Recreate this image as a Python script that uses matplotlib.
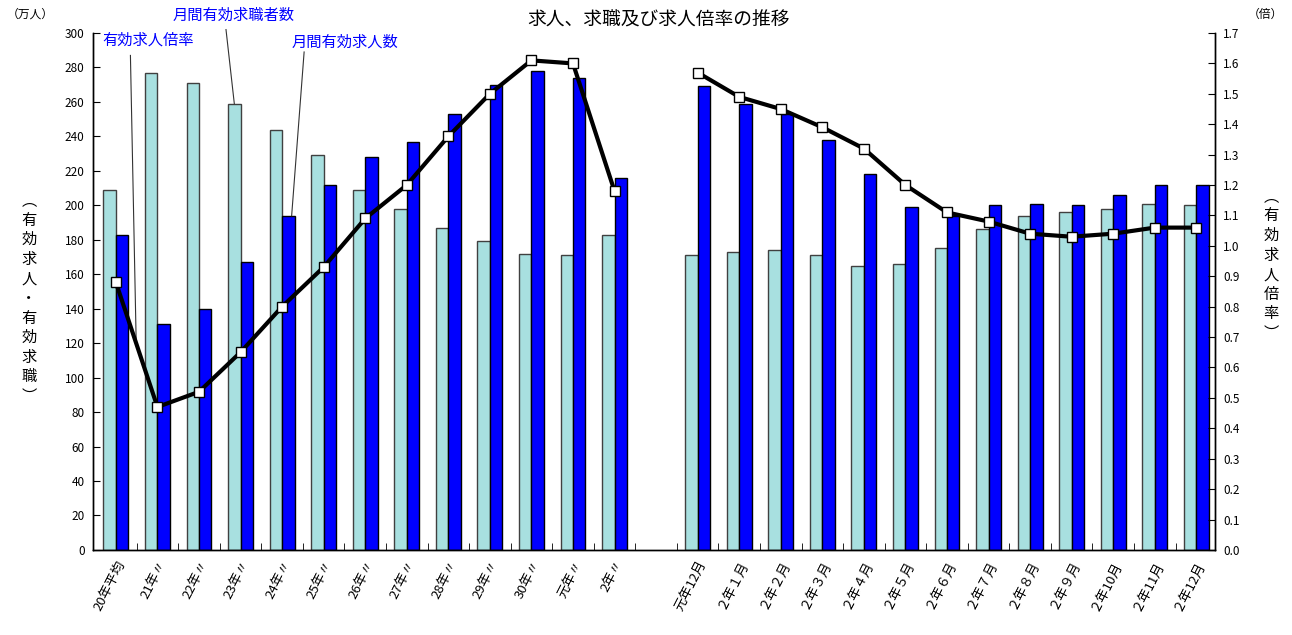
import matplotlib
matplotlib.use("Agg")
import matplotlib.pyplot as plt
import numpy as np

plt.rcParams['font.family'] = ['Noto Sans CJK JP', 'DejaVu Sans']

# ---------------- data ----------------
annual_labels = ["20年平均", "21年〃", "22年〃", "23年〃", "24年〃", "25年〃", "26年〃",
                 "27年〃", "28年〃", "29年〃", "30年〃", "元年〃", "2年〃"]
monthly_labels = ["元年12月", "２年１月", "２年２月", "２年３月", "２年４月", "２年５月", "２年６月",
                  "２年７月", "２年８月", "２年９月", "２年10月", "２年11月", "２年12月"]

seekers_annual = [209, 277, 271, 259, 244, 229, 209, 198, 187, 179, 172, 171, 183]
openings_annual = [183, 131, 140, 167, 194, 212, 228, 237, 253, 270, 278, 274, 216]
ratio_annual = [0.88, 0.47, 0.52, 0.65, 0.80, 0.93, 1.09, 1.20, 1.36, 1.50, 1.61, 1.60, 1.18]

seekers_monthly = [171, 173, 174, 171, 165, 166, 175, 186, 194, 196, 198, 201, 200]
openings_monthly = [269, 259, 253, 238, 218, 199, 194, 200, 201, 200, 206, 212, 212]
ratio_monthly = [1.57, 1.49, 1.45, 1.39, 1.32, 1.20, 1.11, 1.08, 1.04, 1.03, 1.04, 1.06, 1.06]

title = "求人、求職及び求人倍率の推移"
left_unit = "（万人）"
right_unit = "（倍）"
left_axis_label = "︵有効求人・有効求職︶"
right_axis_label = "︵有効求人倍率︶"
label_ratio = "有効求人倍率"
label_seekers = "月間有効求職者数"
label_openings = "月間有効求人数"

# ---------------- layout ----------------
n_a = len(annual_labels)
n_m = len(monthly_labels)
x_a = np.arange(n_a)
x_m = np.arange(n_m) + n_a + 1
x_all = np.concatenate([x_a, x_m])
labels_all = annual_labels + monthly_labels

fig = plt.figure(figsize=(12.92, 6.35), dpi=100)
ax = fig.add_axes([0.072, 0.134, 0.8684, 0.814])
ax2 = ax.twinx()

w = 0.3
light = '#a8e0e0'
dark = '#0000ff'
seekers = seekers_annual + seekers_monthly
openings = openings_annual + openings_monthly
ax.bar(x_all - w / 2, seekers, width=w, color=light, edgecolor='#404040', linewidth=1.0, zorder=2)
ax.bar(x_all + w / 2, openings, width=w, color=dark, edgecolor='black', linewidth=1.0, zorder=2)

lk = dict(color='black', lw=3, marker='s', markersize=7, markerfacecolor='white',
          markeredgecolor='black', markeredgewidth=1.0, zorder=3)
ax2.plot(x_a, ratio_annual, **lk)
ax2.plot(x_m, ratio_monthly, **lk)

ax.set_xlim(-0.55, x_m[-1] + 0.45)
ax.set_ylim(0, 300)
ax2.set_ylim(0, 1.7)

for a in (ax, ax2):
    a.spines['top'].set_visible(False)
    for s in ('left', 'right', 'bottom'):
        a.spines[s].set_linewidth(1.0)

ax.set_yticks(np.arange(0, 301, 20))
ax.tick_params(axis='y', direction='in', length=5, labelsize=8.5, pad=6)
ax2.set_yticks(np.arange(0, 1.71, 0.1))
ax2.set_yticklabels([f"{v:.1f}" for v in np.arange(0, 1.71, 0.1)])
ax2.tick_params(axis='y', direction='in', length=5, labelsize=8.5, pad=6)

ax.set_xticks(x_all)
ax.set_xticklabels(labels_all, rotation=63, ha='right', rotation_mode='anchor', fontsize=9.5)
ax.tick_params(axis='x', length=0, pad=6)
ax.set_xticks(np.arange(0.5, x_m[-1], 1.0), minor=True)
ax.tick_params(axis='x', which='minor', direction='in', length=5)

# title and units
fig.text(0.51, 0.968, title, ha='center', va='center', fontsize=13.5)
fig.text(0.005, 0.978, left_unit, ha='left', va='center', fontsize=8.5)
fig.text(0.993, 0.978, right_unit, ha='right', va='center', fontsize=8.5)

# vertical axis labels
fig.text(0.0225, 0.53, '\n'.join(left_axis_label), ha='center', va='center',
         fontsize=11, linespacing=1.2)
fig.text(0.984, 0.583, '\n'.join(right_axis_label), ha='center', va='center',
         fontsize=11, linespacing=1.2)

# annotations with leader lines
blue = '#0000ff'
ax.text(-0.33, 296, label_ratio, color=blue, fontsize=11, ha='left', va='center', clip_on=False)
ax.plot([0.35, 0.49], [287, 119], color='#333333', lw=0.8, clip_on=False, zorder=4)
ax.text(1.36, 310, label_seekers, color=blue, fontsize=11, ha='left', va='center', clip_on=False)
ax.plot([2.65, 2.85], [302, 259], color='#333333', lw=0.8, clip_on=False, zorder=4)
ax.text(4.24, 295, label_openings, color=blue, fontsize=11, ha='left', va='center', clip_on=False)
ax.plot([4.53, 4.23], [289, 194], color='#333333', lw=0.8, clip_on=False, zorder=4)

fig.savefig("out.png", dpi=100)
